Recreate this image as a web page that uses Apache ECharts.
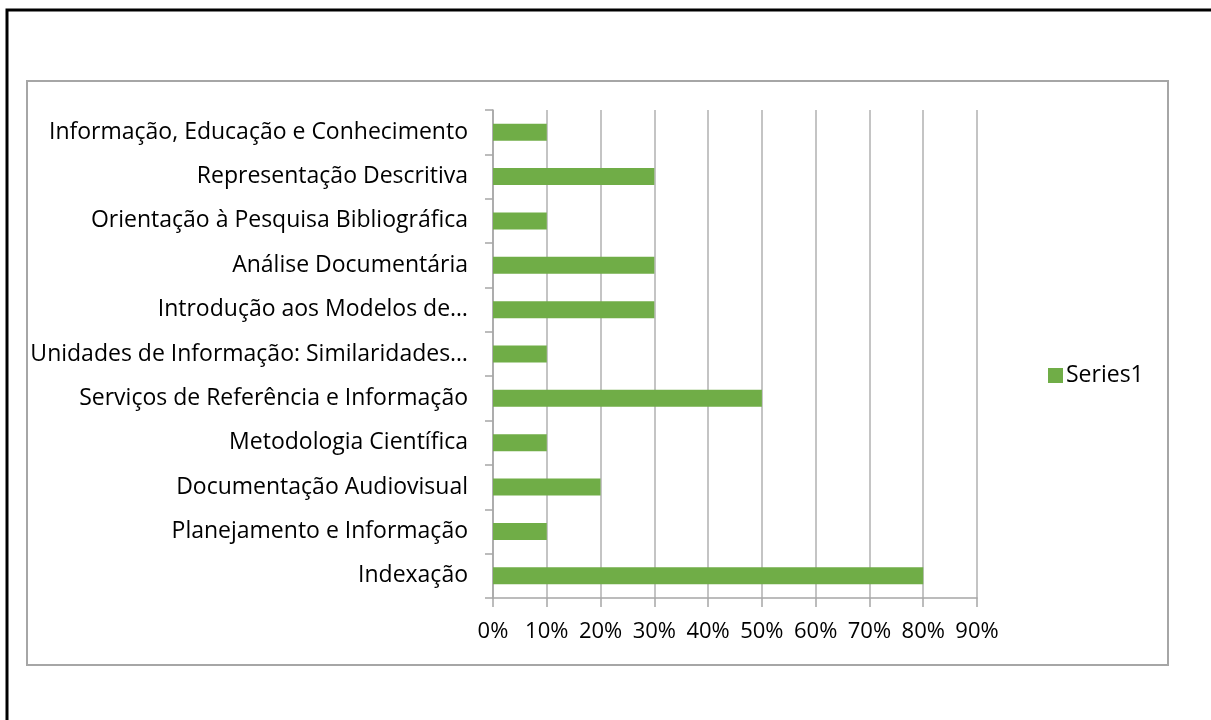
<!DOCTYPE html>
<html><head><meta charset="utf-8">
<script src="https://cdn.jsdelivr.net/npm/echarts@6/dist/echarts.min.js"></script>
<style>html,body{margin:0;padding:0;background:#fff;}#c{width:1211px;height:720px;}</style>
</head><body><div id="c"></div>
<script>
const categories = [
  "Indexação",
  "Planejamento e Informação",
  "Documentação Audiovisual",
  "Metodologia Científica",
  "Serviços de Referência e Informação",
  "Unidades de Informação: Similaridades…",
  "Introdução aos Modelos de…",
  "Análise Documentária",
  "Orientação à Pesquisa Bibliográfica",
  "Representação Descritiva",
  "Informação, Educação e Conhecimento"
];
const series1 = [80, 10, 20, 10, 50, 10, 30, 30, 10, 30, 10];
const seriesName = "Series1";
const FONT = "Open Sans";
const chart = echarts.init(document.getElementById('c'));
chart.setOption({
  animation: false,
  backgroundColor: '#fff',
  textStyle: { fontFamily: FONT },
  graphic: [
    { type: 'rect', shape: { x: 7, y: 10, width: 1230, height: 740 }, style: { fill: 'none', stroke: '#000', lineWidth: 3 }, silent: true },
    { type: 'rect', shape: { x: 27, y: 81, width: 1141, height: 584 }, style: { fill: 'none', stroke: '#a6a6a6', lineWidth: 2 }, silent: true }
  ],
  grid: { left: 493, right: 234, top: 110, bottom: 122, containLabel: false },
  legend: {
    left: 1043, top: 359, orient: 'vertical',
    icon: 'rect', itemWidth: 15, itemHeight: 15, itemGap: 6,
    textStyle: { fontFamily: FONT, fontSize: 23, color: '#000', padding: [0, 0, 0, -2] },
    data: [seriesName]
  },
  xAxis: {
    type: 'value', min: 0, max: 90, interval: 10,
    axisLine: { show: true, lineStyle: { color: '#a6a6a6', width: 1.5 } },
    axisTick: { show: true, length: 9, lineStyle: { color: '#a6a6a6', width: 1.5 } },
    splitLine: { show: true, lineStyle: { color: '#b0b0b0', width: 1.5 } },
    axisLabel: { formatter: '{value}%', fontFamily: FONT, fontSize: 22, color: '#000', margin: 23 }
  },
  yAxis: {
    type: 'category', data: categories,
    axisLine: { show: true, lineStyle: { color: '#a6a6a6', width: 1.5 } },
    axisTick: { show: true, length: 8, lineStyle: { color: '#a6a6a6', width: 1.5 } },
    axisLabel: { fontFamily: FONT, fontSize: 23, color: '#000', margin: 25 }
  },
  series: [{
    name: seriesName, type: 'bar', data: series1, barWidth: 17,
    itemStyle: { color: '#70ad47' }
  }]
});
</script></body></html>
